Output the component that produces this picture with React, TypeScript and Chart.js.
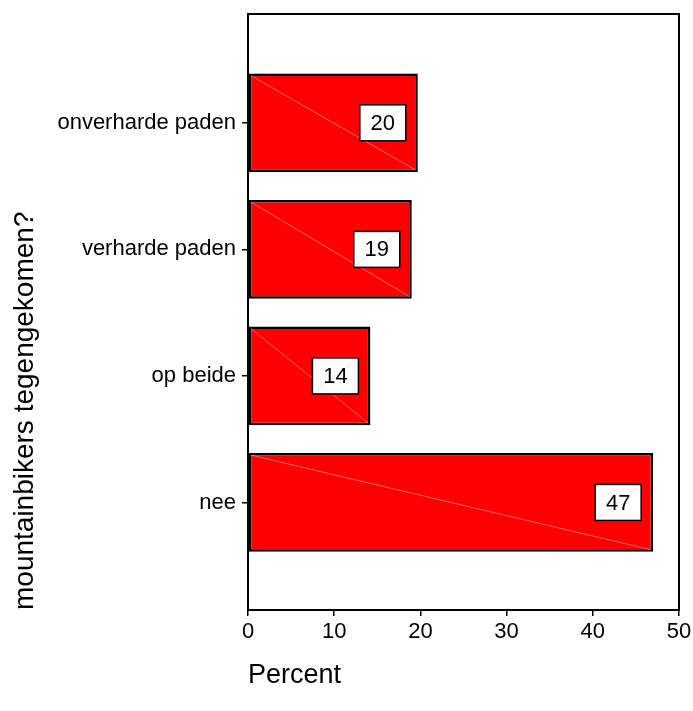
import React, { useEffect, useRef } from "react";
import { Chart, registerables } from "chart.js";

Chart.register(...registerables);

const categories = ["onverharde paden", "verharde paden", "op beide", "nee"];
const percentValues = [19.7, 19.0, 14.2, 47.0];
const barLabels = ["20", "19", "14", "47"];
const xTicks = [0, 10, 20, 30, 40, 50];
const xTitle = "Percent";
const yTitle = "mountainbikers tegengekomen?";

const FONT = "'Liberation Sans', Arial, Helvetica, sans-serif";
const N = categories.length;

const framePlugin = {
  id: "frame",
  afterDatasetsDraw(chart: any) {
    const { ctx, chartArea } = chart;
    const meta = chart.getDatasetMeta(0);
    ctx.save();
    meta.data.forEach((el: any, i: number) => {
      const { x, y, base, height } = el.getProps(["x", "y", "base", "height"], true);
      ctx.strokeStyle = "rgba(255,190,190,0.9)";
      ctx.lineWidth = 0.6;
      ctx.beginPath();
      ctx.moveTo(base + 2, y - height / 2 + 2);
      ctx.lineTo(x - 2, y + height / 2 - 2);
      ctx.stroke();
      const bw = 46;
      const bh = 36;
      const bx = x - 12 - bw;
      const by = y - bh / 2;
      ctx.fillStyle = "#ffffff";
      ctx.fillRect(bx, by, bw, bh);
      ctx.strokeStyle = "rgba(255,190,190,0.9)";
      ctx.lineWidth = 0.6;
      ctx.beginPath();
      ctx.moveTo(bx + 2, by + bh - 2);
      ctx.lineTo(bx + bw - 2, by + 2);
      ctx.stroke();
      ctx.strokeStyle = "#000000";
      ctx.lineWidth = 1.5;
      ctx.strokeRect(bx, by, bw, bh);
      ctx.fillStyle = "#000000";
      ctx.font = `22px ${FONT}`;
      ctx.textAlign = "center";
      ctx.textBaseline = "middle";
      ctx.fillText(barLabels[i], bx + bw / 2, y + 1);
    });
    ctx.strokeStyle = "#000000";
    ctx.lineWidth = 2;
    ctx.strokeRect(chartArea.left, chartArea.top, chartArea.right - chartArea.left, chartArea.bottom - chartArea.top);
    ctx.restore();
  },
};

export default function App() {
  const ref = useRef<HTMLCanvasElement>(null);
  useEffect(() => {
    const chart = new Chart(ref.current as HTMLCanvasElement, {
      type: "bar",
      data: {
        datasets: [
          {
            data: percentValues.map((v, i) => ({ x: v, y: N - 1 - i })) as any,
            backgroundColor: "#ff0000",
            borderColor: "#000000",
            borderWidth: 2.5,
            borderSkipped: false,
            categoryPercentage: 1,
            barPercentage: 0.78,
          },
        ],
      },
      options: {
        indexAxis: "y",
        responsive: false,
        animation: false,
        layout: { padding: { left: 4, right: 14, top: 14, bottom: 15 } },
        plugins: { legend: { display: false }, tooltip: { enabled: false } },
        scales: {
          x: {
            type: "linear",
            min: 0,
            max: 50,
            offset: false,
            afterBuildTicks: (s: any) => {
              s.ticks = xTicks.map((v) => ({ value: v }));
            },
            afterFit: (s: any) => {
              s.height = 86;
              s.paddingLeft = 0;
              s.paddingRight = 0;
            },
            grid: { offset: false, drawOnChartArea: false, drawTicks: true, tickLength: 6, color: "#000", lineWidth: 1.5 },
            border: { display: true, color: "#000", width: 2 },
            ticks: { color: "#000", font: { family: FONT, size: 22 }, padding: 3, maxRotation: 0 },
            title: {
              display: true,
              text: xTitle,
              align: "start",
              color: "#000",
              font: { family: FONT, size: 27 },
            },
          },
          y: {
            type: "linear",
            min: -0.85,
            max: 3.86,
            offset: false,
            afterBuildTicks: (s: any) => {
              s.ticks = categories.map((_, i) => ({ value: i }));
            },
            afterFit: (s: any) => {
              s.width = 244;
              s.paddingTop = 0;
              s.paddingBottom = 0;
            },
            grid: { offset: false, drawOnChartArea: false, drawTicks: true, tickLength: 6, color: "#000", lineWidth: 1.5 },
            border: { display: true, color: "#000", width: 2 },
            ticks: {
              color: "#000",
              font: { family: FONT, size: 22 },
              padding: 6,
              callback: (v: any) => categories[N - 1 - Math.round(Number(v))] ?? "",
            },
            title: {
              display: true,
              text: yTitle,
              align: "start",
              color: "#000",
              font: { family: FONT, size: 28 },
            },
          },
        },
      },
      plugins: [framePlugin],
    } as any);
    return () => chart.destroy();
  }, []);
  return (
    <div style={{ position: "absolute", left: 0, top: 0, width: 693, height: 711, background: "#fff" }}>
      <canvas ref={ref} width={693} height={711} />
    </div>
  );
}
